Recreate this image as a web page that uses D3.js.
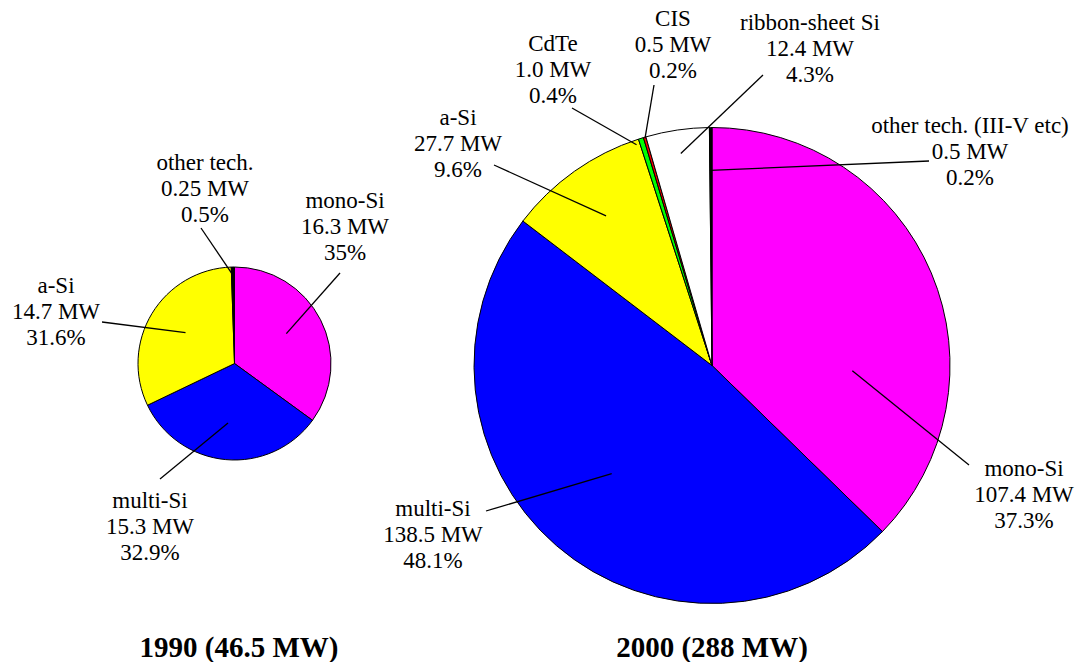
<!DOCTYPE html>
<html>
<head>
<meta charset="utf-8">
<script src="https://cdn.jsdelivr.net/npm/d3@7"></script>
<style>
  body { margin: 0; background: #fff; }
</style>
</head>
<body>
<div id="chart"></div>
<script>
// *** DATA ***
const tech1990 = ["mono-Si", "multi-Si", "a-Si", "other tech."];
const mw1990 = [16.3, 15.3, 14.7, 0.25];
const pct1990 = ["35%", "32.9%", "31.6%", "0.5%"];
const title1990 = "1990 (46.5 MW)";

const tech2000 = ["mono-Si", "multi-Si", "a-Si", "CdTe", "CIS", "ribbon-sheet Si", "other tech. (III-V etc)"];
const mw2000 = [107.4, 138.5, 27.7, 1.0, 0.5, 12.4, 0.5];
const pct2000 = ["37.3%", "48.1%", "9.6%", "0.4%", "0.2%", "4.3%", "0.2%"];
const title2000 = "2000 (288 MW)";

// *** CHART SETTINGS ***
let width = 1085, height = 662
let serif = "'Liberation Serif', 'Times New Roman', Times, 'DejaVu Serif', serif"
let fontSize = 23, lineGap = 26
let colors1990 = ["#ff00ff", "#0000ff", "#ffff00", "#000000"]
let colors2000 = ["#ff00ff", "#0000ff", "#ffff00", "#00ff00", "#ff0000", "#ffffff", "#000000"]

// label layout: r = leader inner end (fraction of radius), da = angle nudge (deg),
// lx/ly = leader outer end, tx/ty = text centre of first line
let layout1990 = [
  {r: 0.62, da: -3, lx: 340, ly: 273, tx: 345, ty: 200},
  {r: 0.62, da: 1, lx: 160, ly: 479, tx: 150, ty: 500},
  {r: 0.60, da: 1, lx: 102, ly: 322, tx: 56, ty: 285},
  {r: 0.94, da: -1, lx: 201, ly: 228, tx: 205, ty: 162}
]
let layout2000 = [
  {r: 0.59, da: 25, lx: 969, ly: 465, tx: 1024, ty: 468},
  {r: 0.62, da: 2, lx: 486, ly: 511, tx: 433, ty: 508},
  {r: 0.77, da: 0, lx: 494, ly: 165, tx: 458, ty: 117},
  {r: 0.98, da: -1.5, lx: 572, ly: 108, tx: 553, ty: 43},
  {r: 0.995, da: 0, lx: 654, ly: 85, tx: 673, ty: 18},
  {r: 0.90, da: 0, lx: 763, ly: 75, tx: 810, ty: 22},
  {r: 0.82, da: -0.3, lx: 929, ly: 161, tx: 970, ty: 125}
]

let mwFormat = v => (Number.isInteger(Math.round(v * 100) / 10) ? v.toFixed(1) : String(v)) + " MW"

// *** END OF SETTINGS ***

let svg = d3.select("#chart").append("svg")
  .attr("width", width)
  .attr("height", height)

function drawPie(opts) {
  let g = svg.append("g").attr("transform", `translate(${opts.cx},${opts.cy})`)

  let pie = d3.pie().sort(null).value(d => d)
  let arcs = pie(opts.values)
  let arc = d3.arc().innerRadius(0).outerRadius(opts.r)

  g.selectAll("path")
    .data(arcs)
    .enter()
    .append("path")
      .attr("d", arc)
      .attr("fill", (d, i) => opts.colors[i])
      .attr("stroke", "#000")
      .attr("stroke-width", 1)
      .attr("stroke-linejoin", "round")

  //leader lines
  let innerPoint = (d, i) => {
    let a = (d.startAngle + d.endAngle) / 2 + opts.layout[i].da * Math.PI / 180
    let rr = opts.r * opts.layout[i].r
    return [Math.sin(a) * rr, -Math.cos(a) * rr]
  }

  g.selectAll("line.leader")
    .data(arcs)
    .enter()
    .append("line")
      .attr("class", "leader")
      .attr("x1", (d, i) => innerPoint(d, i)[0])
      .attr("y1", (d, i) => innerPoint(d, i)[1])
      .attr("x2", (d, i) => opts.layout[i].lx - opts.cx)
      .attr("y2", (d, i) => opts.layout[i].ly - opts.cy)
      .attr("stroke", "#000")
      .attr("stroke-width", 1.3)

  //labels
  let labels = svg.append("g").attr("class", "labels")
  opts.names.forEach((name, i) => {
    let lines = [name, mwFormat(opts.values[i]), opts.pcts[i]]
    let t = labels.append("text")
      .attr("text-anchor", "middle")
      .style("font-family", serif)
      .style("font-size", fontSize + "px")
      .style("fill", "#000")
    lines.forEach((s, j) => {
      t.append("tspan")
        .attr("x", opts.layout[i].tx)
        .attr("y", opts.layout[i].ty + 8 + j * lineGap)
        .text(s)
    })
  })

  //title
  svg.append("text")
    .attr("x", opts.titleX)
    .attr("y", 657)
    .attr("text-anchor", "middle")
    .style("font-family", serif)
    .style("font-size", "29px")
    .style("font-weight", "bold")
    .style("fill", "#000")
    .text(opts.title)
}

drawPie({cx: 234.5, cy: 363.5, r: 96.5, values: mw1990, names: tech1990, pcts: pct1990,
  colors: colors1990, layout: layout1990, title: title1990, titleX: 239})

drawPie({cx: 712, cy: 365.5, r: 238, values: mw2000, names: tech2000, pcts: pct2000,
  colors: colors2000, layout: layout2000, title: title2000, titleX: 712})
</script>
</body>
</html>
